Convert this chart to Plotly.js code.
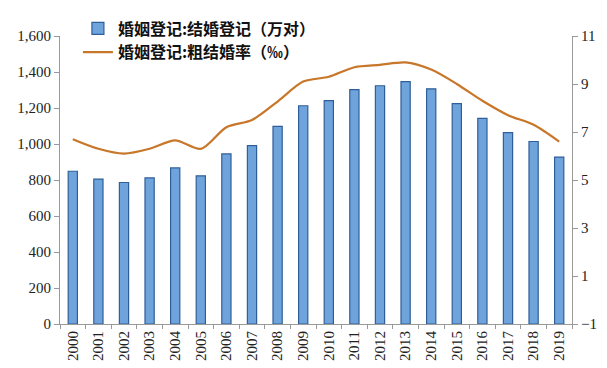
<!DOCTYPE html>
<html><head><meta charset="utf-8">
<script src="https://cdn.plot.ly/plotly-3.0.1.min.js"></script>
<style>html,body{margin:0;padding:0;background:#fff}</style>
</head><body>
<div id="chart" style="width:607px;height:368px"></div>
<script>
const years = ["2000","2001","2002","2003","2004","2005","2006","2007","2008","2009","2010","2011","2012","2013","2014","2015","2016","2017","2018","2019"];
const registrations = [848.5,805,786,811.4,867.2,823.1,945,991.4,1098.3,1212.4,1241,1302.4,1323.6,1346.9,1306.7,1224.7,1142.8,1063.1,1013.9,927.3];
const crudeRate = [6.7,6.3,6.1,6.3,6.65,6.3,7.2,7.5,8.27,9.1,9.3,9.7,9.8,9.9,9.6,9.0,8.3,7.7,7.3,6.6];
const barName = "婚姻登记:结婚登记（万对）";
const lineName = "婚姻登记:粗结婚率（‰）";

const traces = [
  {type:"bar", x:years, y:registrations, name:barName, width:0.36,
   marker:{color:"#6fa3dc", line:{color:"#2f5f98", width:1.2}}},
  {type:"scatter", mode:"lines", x:years, y:crudeRate, name:lineName, yaxis:"y2",
   line:{color:"#c8772a", width:2.2, shape:"spline", smoothing:0.8}}
];
const tickFont = {family:"'Times New Roman', 'Liberation Serif', 'DejaVu Serif', serif", size:15, color:"#222"};
const layout = {
  width:607, height:368,
  margin:{l:60, r:35, t:27, b:44},
  paper_bgcolor:"#fff", plot_bgcolor:"#fff",
  showlegend:true,
  legend:{x:0.035, y:1.085, xanchor:"left", yanchor:"top", bgcolor:"rgba(0,0,0,0)",
          font:{family:"Noto Sans CJK SC", size:16, color:"#111", weight:700}, tracegroupgap:2},
  bargap:0.6,
  xaxis:{type:"category", tickangle:-90, tickfont:tickFont, showline:true, linecolor:"#999",
         ticks:"outside", tickson:"boundaries", ticklen:4, tickcolor:"#999", showgrid:false, zeroline:false},
  yaxis:{range:[0,1600], dtick:200, tickformat:",", tickfont:tickFont, showline:true, linecolor:"#999",
         ticks:"outside", ticklen:5, tickcolor:"#999", showgrid:false, zeroline:false},
  yaxis2:{range:[-1,11], tick0:-1, dtick:2, overlaying:"y", side:"right", tickfont:tickFont, showline:true,
          linecolor:"#999", ticks:"outside", ticklen:5, tickcolor:"#999", showgrid:false, zeroline:false}
};
Plotly.newPlot("chart", traces, layout, {displayModeBar:false, staticPlot:true});
</script>
</body></html>
